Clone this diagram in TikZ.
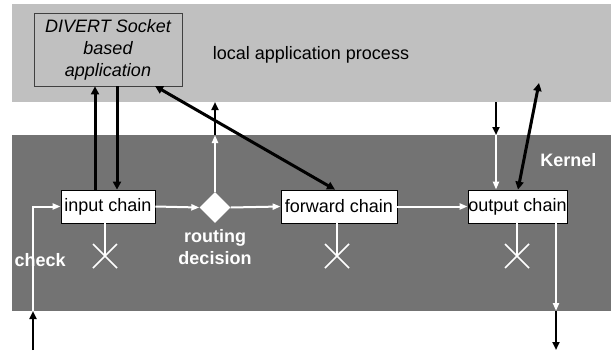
\documentclass[tikz,border=0pt]{standalone}
\usepackage{fontspec}
\setmainfont{Liberation Sans}
\usetikzlibrary{arrows.meta}
\usetikzlibrary{shapes.geometric}

\definecolor{userband}{HTML}{C0C0C0}
\definecolor{kernelband}{HTML}{737373}
\tikzset{
  chain/.style={draw=black, fill=white, line width=0.8pt, minimum width=94pt, minimum height=33pt, inner sep=0pt, font=\fontsize{18}{22}\selectfont},
  wline/.style={draw=white, line width=2pt},
  wflow/.style={wline, -{Triangle[length=8pt,width=6pt]}},
  bflow/.style={draw=black, line width=3pt, -{Triangle[length=8pt,width=8pt]}},
  bthin/.style={draw=black, line width=2pt, -{Triangle[length=8pt,width=7pt]}},
  bandtext/.style={text=white, font=\fontsize{18}{22}\selectfont\bfseries, align=center}
}

\begin{document}
\begin{tikzpicture}[x=1pt, y=-1pt]
\useasboundingbox (0,0) rectangle (616,351);
%%% The two bands: user space and kernel
\fill[userband] (12,4) rectangle (611,102);
\fill[kernelband] (12,135) rectangle (611,311);
\node[bandtext, anchor=east] (kern) at (600,160) {Kernel};
\node[font=\fontsize{18}{22}\selectfont] (proc) at (311,55) {local application process};
%%% The divert application
\node[draw=black!75, fill=userband, line width=0.8pt, minimum width=148pt, minimum height=73pt, align=center, font=\fontsize{18}{22}\selectfont\itshape] (div) at (108,49.5) {DIVERT Socket\\based\\application};
%%% The chains and the routing decision
\node[chain] (in) at (108,206.5) {input chain};
\node[chain, minimum width=116pt] (fwd) at (339,206.5) {forward chain};
\node[chain, minimum width=99pt] (out) at (517.5,206.5) {output chain};
\node[diamond, fill=white, minimum width=31pt, minimum height=31pt, inner sep=0pt] (rd) at (215,207.5) {};
\node[bandtext, anchor=north] (rdtext) at (215,226) {routing\\decision};
\node[bandtext, anchor=west] (chk) at (11,260) {check};
%%% The drop crosses
\foreach \name/\xx in {indrop/105, fwddrop/337, outdrop/517} {
  \coordinate (\name) at (\xx,256);
  \draw[wline, line width=1.5pt] (\name) +(-12,-12) -- +(12,12) +(-12,12) -- +(12,-12);
}
\draw[wline, line width=1.5pt] (in.south -| indrop) -- (indrop);
\draw[wline, line width=1.5pt] (fwd.south -| fwddrop) -- (fwddrop);
\draw[wline, line width=1.5pt] (out.south -| outdrop) -- (outdrop);
%%% Incoming packets
\coordinate (inlow) at (33,350);
\coordinate (inedge) at (33,311);
\draw[bthin] (inlow) -- (inedge);
\draw[wflow] (inedge) |- (in.west);
%%% The flow between the chains
\draw[wflow] (in.east) -- (rd.west);
\draw[wflow] (rd.east) -- (fwd.west);
\draw[wflow] (fwd.east) -- (out.west);
%%% Up to the local process
\coordinate (upmid) at (215,135);
\coordinate (uptop) at (215,102);
\draw[wflow] (rd.north) -- (upmid);
\draw[bthin] (upmid) -- (uptop);
%%% Down from the local process
\coordinate (dntop) at (496,102);
\coordinate (dnmid) at (496,135);
\draw[bthin] (dntop) -- (dnmid);
\draw[wflow] (dnmid) -- (out.north -| dnmid);
%%% Outgoing packets
\coordinate (outedge) at (556,311);
\coordinate (outlow) at (556,350);
\draw[wflow] (out.south -| outedge) -- (outedge);
\draw[bthin] (outedge) -- (outlow);
%%% The divert socket paths
\draw[bflow] ([xshift=-13pt]in.north) -- ([xshift=-13pt]in.north |- div.south);
\draw[bflow] ([xshift=9pt]in.north |- div.south) -- ([xshift=9pt]in.north);
\draw[bflow, {Triangle[length=8pt,width=8pt]}-{Triangle[length=8pt,width=8pt]}] (155,86) -- ([xshift=-4pt]fwd.north);
\draw[bflow, {Triangle[length=8pt,width=8pt]}-{Triangle[length=8pt,width=8pt]}] ([xshift=0.5pt]out.north) -- (539,83);
\end{tikzpicture}
\end{document}
